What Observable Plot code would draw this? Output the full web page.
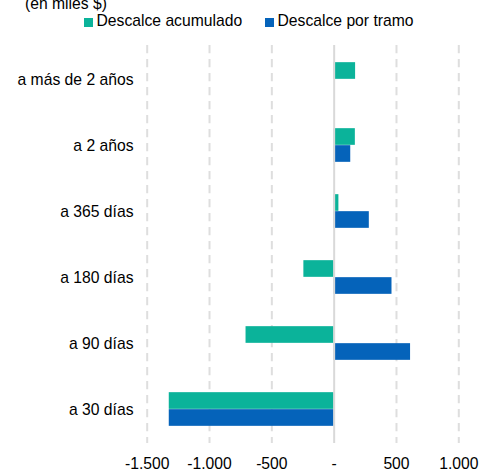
<!DOCTYPE html>
<html>
<head>
<meta charset="utf-8">
<script src="https://cdn.jsdelivr.net/npm/d3@7"></script>
<script src="https://cdn.jsdelivr.net/npm/@observablehq/plot@0.6"></script>
<style>
  html, body { margin: 0; padding: 0; background: #fff; overflow: hidden; }
  body { width: 490px; height: 471px; font-family: "Liberation Sans", Arial, sans-serif; color: #000; }
  #header { position: relative; height: 30px; font-size: 15.7px; line-height: 1; }
  #header span { position: absolute; white-space: nowrap; }
  .sw { position: absolute; width: 9px; height: 9px; }
  svg { display: block; }
</style>
</head>
<body>
<div id="header"></div>
<div id="chart"></div>
<script>
// ---- data ----
const subtitle = "(en miles $)";
const categories = ["a más de 2 años", "a 2 años", "a 365 días", "a 180 días", "a 90 días", "a 30 días"];
const seriesNames = ["Descalce acumulado", "Descalce por tramo"];
const seriesColors = ["#0BB39A", "#0563BA"];
const descalceAcumulado = [172, 170, 38, -243, -707, -1323];
const descalcePorTramo = [0, 133, 282, 464, 613, -1323];
const xTicks = [-1500, -1000, -500, 0, 500, 1000];
const xTickLabels = ["-1.500", "-1.000", "-500", "-", "500", "1.000"];

// ---- header (subtitle + legend) ----
const header = document.getElementById("header");
const t = document.createElement("span");
t.textContent = subtitle; t.style.left = "25px"; t.style.top = "-4.3px";
header.appendChild(t);
const legendX = [84, 265];
seriesNames.forEach((name, i) => {
  const s = document.createElement("div");
  s.className = "sw"; s.style.background = seriesColors[i];
  s.style.left = legendX[i] + "px"; s.style.top = "18px";
  header.appendChild(s);
  const l = document.createElement("span");
  l.textContent = name; l.style.left = (legendX[i] + 12.5) + "px"; l.style.top = "13.4px";
  header.appendChild(l);
});

// ---- chart ----
const width = 490, height = 441;
const marginTop = 15, marginBottom = 28, marginLeft = 146.7, marginRight = 31.7;
const step = (height - marginTop - marginBottom) / categories.length;
const barH = 17;

const rows = [];
categories.forEach((c, i) => {
  rows.push({cat: c, series: seriesNames[0], v: descalceAcumulado[i]});
  rows.push({cat: c, series: seriesNames[1], v: descalcePorTramo[i]});
});

const chart = Plot.plot({
  width, height, marginTop, marginBottom, marginLeft, marginRight,
  style: {fontFamily: "Liberation Sans, Arial, sans-serif", fontSize: "15.7px", color: "#000", background: "#fff"},
  x: {domain: [-1500, 1000]},
  y: {domain: categories, padding: 0, label: null},
  marks: [
    Plot.ruleX(xTicks.filter(d => d !== 0), {stroke: "#dedede", strokeWidth: 2, strokeDasharray: "8.3,5.7"}),
    Plot.barX(rows.filter(d => d.series === seriesNames[0]), {
      y: "cat", x: "v", fill: seriesColors[0],
      insetTop: step / 2 - barH, insetBottom: step / 2
    }),
    Plot.barX(rows.filter(d => d.series === seriesNames[1]), {
      y: "cat", x: "v", fill: seriesColors[1],
      insetTop: step / 2, insetBottom: step / 2 - barH
    }),
    Plot.ruleX([0], {stroke: "#d9d9d9", strokeWidth: 2}),
    Plot.axisY({tickSize: 0, tickPadding: 13.7, label: null}),
    Plot.axisX({ticks: xTicks, tickSize: 0, tickPadding: 14, label: null,
      tickFormat: d => xTickLabels[xTicks.indexOf(d)]})
  ]
});
document.getElementById("chart").appendChild(chart);
</script>
</body>
</html>
